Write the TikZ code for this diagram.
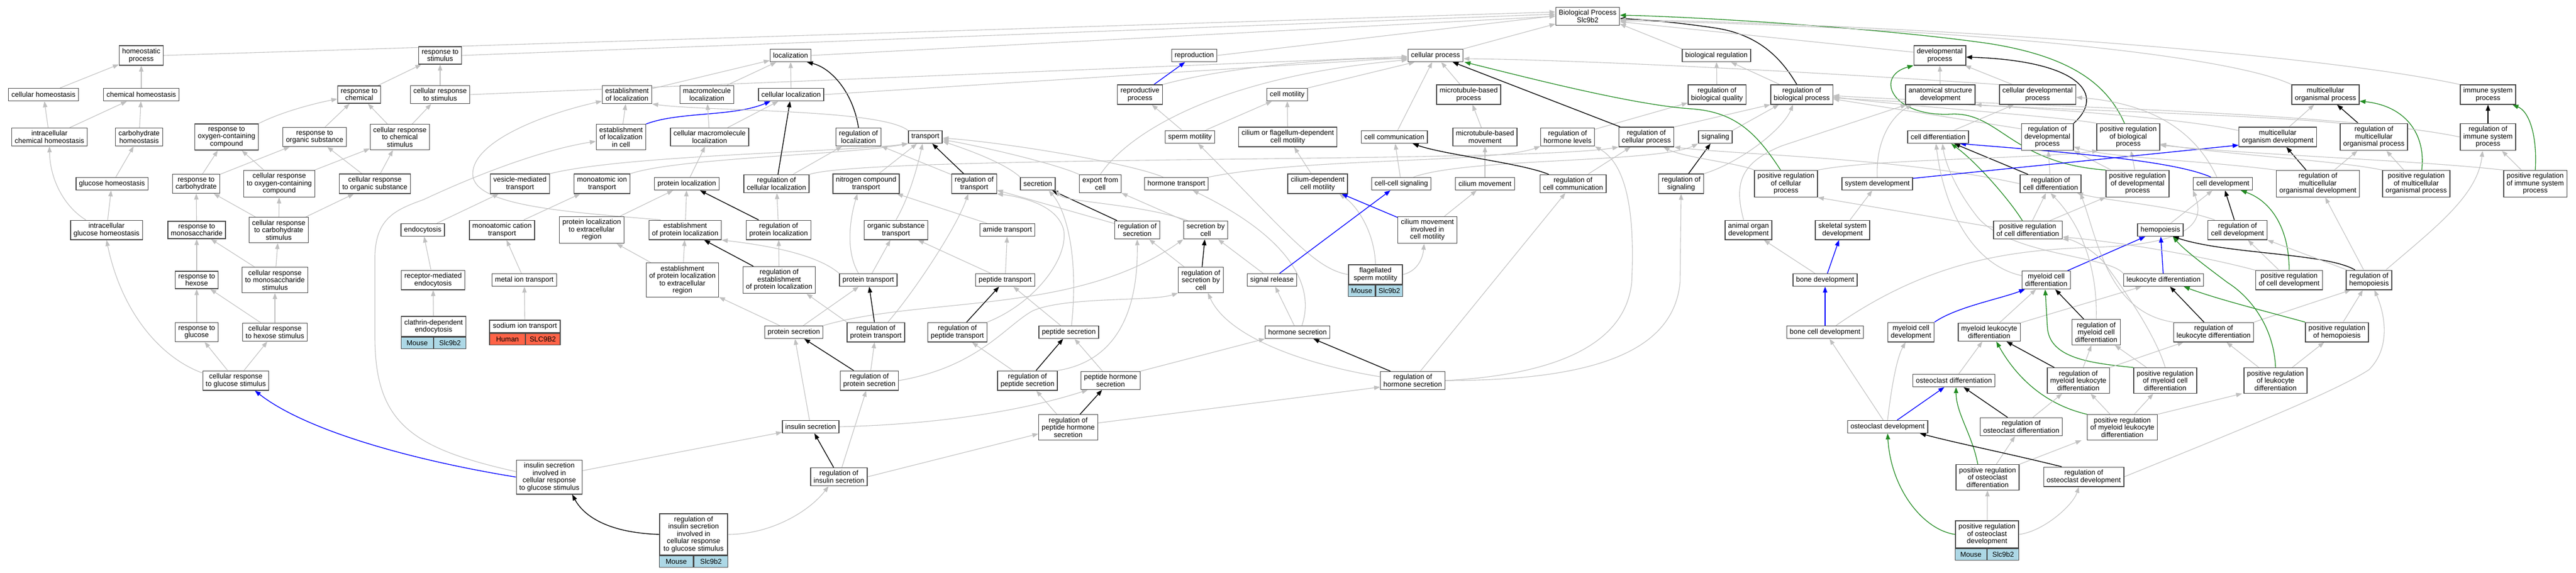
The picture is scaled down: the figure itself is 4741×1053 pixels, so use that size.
\documentclass[tikz,border=0pt]{standalone}
\usepackage{fontspec}
\setmainfont{Liberation Sans}
\usetikzlibrary{arrows.meta,backgrounds}
\definecolor{eg}{RGB}{192,192,192}
\definecolor{ebl}{RGB}{0,0,255}
\definecolor{egn}{RGB}{34,139,34}
\definecolor{lbl}{RGB}{173,216,230}
\definecolor{tom}{RGB}{255,99,71}
\definecolor{nbd}{RGB}{70,70,70}
\newcommand\nfont{\fontsize{13}{13.5}\selectfont}
\begin{document}
\begin{tikzpicture}[x=1pt,y=-1pt,
 nb/.style={draw=nbd, line width=1.4pt, fill=white, align=center, inner xsep=5.5pt, inner ysep=5pt, minimum height=23pt, font=\nfont},
 cb/.style={draw=nbd, line width=1.4pt, fill=lbl, minimum height=21pt, inner sep=0pt, font=\nfont},
 cbr/.style={cb, fill=tom},
 ge/.style={draw=eg, line width=1.1pt, -{Triangle[length=11pt,width=8pt]}},
 ke/.style={draw=black, line width=1.4pt, -{Triangle[length=11pt,width=8pt]}},
 bue/.style={draw=ebl, line width=1.4pt, -{Triangle[length=11pt,width=8pt]}},
 gne/.style={draw=egn, line width=1.3pt, -{Triangle[length=11pt,width=8pt]}}]
\useasboundingbox (0,0) rectangle (4741,1053);
% ---------------- nodes: left cluster
\node[nb] (hp) at (260,102) {homeostatic\\process};
\node[nb] (ch) at (80,174) {cellular homeostasis};
\node[nb] (chh) at (260,174) {chemical homeostasis};
\node[nb] (ichh) at (91,252) {intracellular\\chemical homeostasis};
\node[nb] (cbh) at (256,252) {carbohydrate\\homeostasis};
\node[nb] (gh) at (206,338) {glucose homeostasis};
\node[nb] (igh) at (196,423) {intracellular\\glucose homeostasis};
\node[nb] (rc) at (661,174) {response to\\chemical};
\node[nb] (rs) at (810,102) {response to\\stimulus};
\node[nb] (crs) at (810,174) {cellular response\\to stimulus};
\node[nb] (roc) at (417,252) {response to\\oxygen-containing\\compound};
\node[nb] (ros) at (579,252) {response to\\organic substance};
\node[nb] (crcs) at (736,252) {cellular response\\to chemical\\stimulus};
\node[nb] (rcb) at (361,338) {response to\\carbohydrate};
\node[nb] (croc) at (514,338) {cellular response\\to oxygen-containing\\compound};
\node[nb] (cros) at (690,338) {cellular response\\to organic substance};
\node[nb] (rms) at (362,423) {response to\\monosaccharide};
\node[nb] (crcbs) at (513,423) {cellular response\\to carbohydrate\\stimulus};
\node[nb] (rhx) at (362,515) {response to\\hexose};
\node[nb] (crms) at (506,515) {cellular response\\to monosaccharide\\stimulus};
\node[nb] (endo) at (778,423) {endocytosis};
\node[nb] (rme) at (797,515) {receptor-mediated\\endocytosis};
\node[nb] (rgl) at (362,611) {response to\\glucose};
\node[nb] (crhs) at (506,611) {cellular response\\to hexose stimulus};
\node[nb] (crgs) at (434,700) {cellular response\\to glucose stimulus};
\node[nb, minimum width=118pt, minimum height=37pt] (cde) at (798,600.5) {clathrin-dependent\\endocytosis};
\node[cb, minimum width=59pt, anchor=north east] at (cde.south) {Mouse};
\node[cb, minimum width=59pt, anchor=north west] at (cde.south) {Slc9b2};
% ---------------- localization cluster
\node[nb] (loc) at (1455,102) {localization};
\node[nb] (eloc) at (1154,174) {establishment\\of localization};
\node[nb] (mml) at (1301,174) {macromolecule\\localization};
\node[nb] (cloc) at (1456,174) {cellular localization};
\node[nb] (elc) at (1143,252) {establishment\\of localization\\in cell};
\node[nb] (cmml) at (1306,252) {cellular macromolecule\\localization};
\node[nb] (rloc) at (1580,252) {regulation of\\localization};
\node[nb] (vmt) at (957,338) {vesicle-mediated\\transport};
\node[nb] (mit) at (1108,338) {monoatomic ion\\transport};
\node[nb] (ploc) at (1264,338) {protein localization};
\node[nb] (rcl) at (1429,338) {regulation of\\cellular localization};
\node[nb] (nct) at (1594,338) {nitrogen compound\\transport};
\node[nb] (mct) at (924,423) {monoatomic cation\\transport};
\node[nb] (pler) at (1089,423) {protein localization\\to extracellular\\region};
\node[nb] (epl) at (1261,423) {establishment\\of protein localization};
\node[nb] (rpl) at (1433,423) {regulation of\\protein localization};
\node[nb] (mett) at (965,515) {metal ion transport};
\node[nb] (epler) at (1256,515) {establishment\\of protein localization\\to extracellular\\region};
\node[nb] (repl) at (1434,515) {regulation of\\establishment\\of protein localization};
\node[nb] (prt) at (1598,515) {protein transport};
\node[nb, minimum width=130pt] (sit) at (966,600.5) {sodium ion transport};
\node[cbr, minimum width=66pt, anchor=north west] at (sit.south west) {Human};
\node[cbr, minimum width=64pt, anchor=north east] at (sit.south east) {SLC9B2};
\node[nb] (prs) at (1461,611) {protein secretion};
\node[nb] (rps) at (1600,700) {regulation of\\protein secretion};
\node[nb] (ins) at (1492,785) {insulin secretion};
\node[nb] (isg) at (1011,877.5) {insulin secretion\\involved in\\cellular response\\to glucose stimulus};
\node[nb] (ris) at (1544,877) {regulation of\\insulin secretion};
\node[nb, minimum width=125pt, minimum height=76pt] (risg) at (1276.5,983) {regulation of\\insulin secretion\\involved in\\cellular response\\to glucose stimulus};
\node[cb, minimum width=62.5pt, anchor=north east] at (risg.south) {Mouse};
\node[cb, minimum width=62.5pt, anchor=north west] at (risg.south) {Slc9b2};
% ---------------- transport / secretion cluster
\node[nb] (repro) at (2198,102) {reproduction};
\node[nb] (rp) at (2098,174) {reproductive\\process};
\node[nb] (cm) at (2369,174) {cell motility};
\node[nb] (tr) at (1703,252) {transport};
\node[nb] (sm) at (2190,252) {sperm motility};
\node[nb] (cfm) at (2370,252) {cilium or flagellum-dependent\\cell motility};
\node[nb] (rtr) at (1793,338) {regulation of\\transport};
\node[nb] (sec) at (1910,338) {secretion};
\node[nb] (efc) at (2025,338) {export from\\cell};
\node[nb] (ht) at (2165,338) {hormone transport};
\node[nb] (ost) at (1649,423) {organic substance\\transport};
\node[nb] (amt) at (1854,423) {amide transport};
\node[nb] (rsec) at (2093,423) {regulation of\\secretion};
\node[nb] (sbc) at (2219,423) {secretion by\\cell};
\node[nb] (pept) at (1850,515) {peptide transport};
\node[nb] (rsbc) at (2210,515) {regulation of\\secretion by\\cell};
\node[nb] (sr) at (2341,515) {signal release};
\node[nb] (rpt) at (1612,611) {regulation of\\protein transport};
\node[nb] (rpept) at (1762,611) {regulation of\\peptide transport};
\node[nb] (pes) at (1967,611) {peptide secretion};
\node[nb] (hs) at (2388,611) {hormone secretion};
\node[nb] (rpes) at (1891,700) {regulation of\\peptide secretion};
\node[nb] (phs) at (2044,700) {peptide hormone\\secretion};
\node[nb] (rphs) at (1966,786) {regulation of\\peptide hormone\\secretion};
% ---------------- central cluster
\node[nb] (bp) at (2922,30) {Biological Process\\Slc9b2};
\node[nb] (cp) at (2642,102) {cellular process};
\node[nb] (br) at (3159,102) {biological regulation};
\node[nb] (mtp) at (2703,174) {microtubule-based\\process};
\node[nb] (rbq) at (3160,174) {regulation of\\biological quality};
\node[nb] (cc) at (2566,252) {cell communication};
\node[nb] (mtm) at (2733,252) {microtubule-based\\movement};
\node[nb] (rhl) at (2885,252) {regulation of\\hormone levels};
\node[nb] (rcp) at (3030,252) {regulation of\\cellular process};
\node[nb] (sig) at (3157,252) {signaling};
\node[nb] (cdm) at (2425,338) {cilium-dependent\\cell motility};
\node[nb] (ccs) at (2579,338) {cell-cell signaling};
\node[nb] (cmv) at (2733,338) {cilium movement};
\node[nb] (rcc) at (2895,338) {regulation of\\cell communication};
\node[nb] (rsig) at (3094,338) {regulation of\\signaling};
\node[nb] (cmcm) at (2627,423) {cilium movement\\involved in\\cell motility};
\node[nb, minimum width=99pt, minimum height=36pt] (fsm) at (2531.5,505) {flagellated\\sperm motility};
\node[cb, minimum width=49.5pt, anchor=north east] at (fsm.south) {Mouse};
\node[cb, minimum width=49.5pt, anchor=north west] at (fsm.south) {Slc9b2};
\node[nb] (rhs) at (2600,700) {regulation of\\hormone secretion};
% ---------------- developmental cluster
\node[nb] (dp) at (3570,102) {developmental\\process};
\node[nb] (rbp) at (3316,174) {regulation of\\biological process};
\node[nb] (asd) at (3571,174) {anatomical structure\\development};
\node[nb] (cdp) at (3750,174) {cellular developmental\\process};
\node[nb] (cd) at (3567,252) {cell differentiation};
\node[nb] (rdp) at (3768,252) {regulation of\\developmental\\process};
\node[nb] (prbp) at (3917,252) {positive regulation\\of biological\\process};
\node[nb] (prcp) at (3287,338) {positive regulation\\of cellular\\process};
\node[nb] (sd) at (3455,338) {system development};
\node[nb] (rcd) at (3774,338) {regulation of\\cell differentiation};
\node[nb] (prdp) at (3934,338) {positive regulation\\of developmental\\process};
\node[nb] (aod) at (3218,423) {animal organ\\development};
\node[nb] (ssd) at (3391,423) {skeletal system\\development};
\node[nb] (prcd) at (3732,423) {positive regulation\\of cell differentiation};
\node[nb] (hem) at (3976,423) {hemopoiesis};
\node[nb] (rcdev) at (4118,423) {regulation of\\cell development};
\node[nb] (bd) at (3359,515) {bone development};
\node[nb] (mcd) at (3766,515) {myeloid cell\\differentiation};
\node[nb] (ld) at (3982,515) {leukocyte differentiation};
\node[nb] (bcd) at (3359,611) {bone cell development};
\node[nb] (mcdev) at (3517,611) {myeloid cell\\development};
\node[nb] (mld) at (3661,611) {myeloid leukocyte\\differentiation};
\node[nb] (rmcd) at (3858,611) {regulation of\\myeloid cell\\differentiation};
\node[nb] (od) at (3596,700) {osteoclast differentiation};
\node[nb] (rmld) at (3825,700) {regulation of\\myeloid leukocyte\\differentiation};
\node[nb] (prmcd) at (3985,700) {positive regulation\\of myeloid cell\\differentiation};
\node[nb] (odev) at (3474,785) {osteoclast development};
\node[nb] (rod) at (3720,785) {regulation of\\osteoclast differentiation};
\node[nb] (prmld) at (3906,786) {positive regulation\\of myeloid leukocyte\\differentiation};
\node[nb] (prod) at (3658,878) {positive regulation\\of osteoclast\\differentiation};
\node[nb] (rodev) at (3835,877) {regulation of\\osteoclast development};
\node[nb, minimum width=116pt, minimum height=50pt] (prodev) at (3657,983) {positive regulation\\of osteoclast\\development};
\node[cb, minimum width=58pt, anchor=north east] at (prodev.south) {Mouse};
\node[cb, minimum width=58pt, anchor=north west] at (prodev.south) {Slc9b2};
\node[nb] (mop) at (4280,174) {multicellular\\organismal process};
\node[nb] (isp) at (4579,174) {immune system\\process};
\node[nb] (mod) at (4192,252) {multicellular\\organism development};
\node[nb] (rmop) at (4369,252) {regulation of\\multicellular\\organismal process};
\node[nb] (risp) at (4579,252) {regulation of\\immune system\\process};
\node[nb] (cdev) at (4091,338) {cell development};
\node[nb] (rmod) at (4266,338) {regulation of\\multicellular\\organismal development};
\node[nb] (prmop) at (4447,338) {positive regulation\\of multicellular\\organismal process};
\node[nb] (prisp) at (4666,338) {positive regulation\\of immune system\\process};
\node[nb] (prcdev) at (4213,515) {positive regulation\\of cell development};
\node[nb] (rhem) at (4360,515) {regulation of\\hemopoiesis};
\node[nb] (rld) at (4074,611) {regulation of\\leukocyte differentiation};
\node[nb] (prhem) at (4301,611) {positive regulation\\of hemopoiesis};
\node[nb] (prld) at (4188,700) {positive regulation\\of leukocyte\\differentiation};
% ================= edges
\begin{pgfonlayer}{background}
\fill[white] (0,0) rectangle (4741,1053);
% left
\draw[ge] (ch) -- (hp);
\draw[ge] (chh) -- (hp);
\draw[ge] (ichh) -- (ch);
\draw[ge] (ichh) -- (chh);
\draw[ge] (cbh) -- (chh);
\draw[ge] (gh) -- (cbh);
\draw[ge] (igh) -- (gh);
\draw[ge] ([xshift=-38pt]igh.north) .. controls (118,380) and (92,330) .. (ichh.south);
\draw[ge] ([yshift=14pt]crgs.west) .. controls (300,660) and (225,580) .. (igh.south);
\draw[ge] (crgs) -- (rgl);
\draw[ge] (crgs) -- (crhs);
\draw[ge] (rgl) -- (rhx);
\draw[ge] (crhs) -- (rhx);
\draw[ge] (crhs) -- (crms);
\draw[ge] (rhx) -- (rms);
\draw[ge] (crms) -- (rms);
\draw[ge] (crms) -- (crcbs);
\draw[ge] (rms) -- (rcb);
\draw[ge] (crcbs) -- (rcb);
\draw[ge] (crcbs) -- (croc);
\draw[ge] (crcbs) -- (cros);
\draw[ge] (rcb) -- (roc);
\draw[ge] (rcb) -- (ros);
\draw[ge] (croc) -- (roc);
\draw[ge] (croc) -- (crcs);
\draw[ge] (cros) -- (ros);
\draw[ge] (cros) -- (crcs);
\draw[ge] (roc.north east) .. controls (520,205) and (580,190) .. ([yshift=-8pt]rc.west);
\draw[ge] (ros) -- (rc);
\draw[ge] (crcs) -- (rc);
\draw[ge] (crcs) -- (crs);
\draw[ge] (rc) -- (rs);
\draw[ge] (crs) -- (rs);
\draw[ge] (hp.east) -- ([yshift=8pt]bp.west);
\draw[ge] (rs.east) -- ([yshift=4pt]bp.west);
\draw[ge] (crs.east) -- ([yshift=-2pt]cp.west);
\draw[ge] (endo) -- (vmt);
\draw[ge] (rme) -- (endo);
\draw[ge] (cde) -- (rme);
\draw[ge] (sit) -- (mett);
\draw[ge] (mett) -- (mct);
\draw[ge] (mct) -- (mit);
\draw[ge] (vmt.north east) .. controls (1150,285) and (1550,280) .. (tr.south west);
\draw[ge] (mit.north east) .. controls (1250,290) and (1560,285) .. (tr.south west);
\draw[ge] (isg) -- (ins);
\draw[bue] (isg.west) .. controls (750,845) and (560,790) .. ([xshift=35pt]crgs.south);
\draw[ge] ([yshift=10pt]isg.west) .. controls (760,825) and (690,780) .. (690,620) -- (690,470) .. controls (692,400) and (730,385) .. (780,367) .. controls (880,320) and (1000,275) .. ([yshift=-8pt]elc.west);
% localization
\draw[ge] (loc.east) -- (bp.west);
\draw[ge] (eloc) -- (loc);
\draw[ge] (mml) -- (loc);
\draw[ge] (cloc) -- (loc);
\draw[ke] (rloc.north) .. controls (1570,170) and (1530,125) .. ([xshift=30pt]loc.south);
\draw[ge] (elc) -- (eloc);
\draw[bue] (elc.north east) .. controls (1250,205) and (1350,215) .. ([xshift=-38pt]cloc.south);
\draw[ge] (cmml) -- (mml);
\draw[ge] (cmml) -- (cloc);
\draw[ke] (rcl) -- (cloc);
\draw[ge] (rcl) -- (rloc);
\draw[ge] (rcl.north east) .. controls (1600,285) and (2800,300) .. (rcp.south west);
\draw[ge] (ploc) -- (cmml);
\draw[ge] (epl) -- (ploc);
\draw[ge] ([xshift=22pt]epl.north west) .. controls (1050,390) and (870,380) .. (870,320) .. controls (870,260) and (1000,210) .. ([yshift=-12pt]eloc.west);
\draw[ke] (rpl) -- (ploc);
\draw[ge] (rpl) -- (rcl);
\draw[ke] (repl) -- (epl);
\draw[ge] (repl) -- (rpl);
\draw[ge] (epler) -- (pler);
\draw[ge] (epler) -- (epl);
\draw[ge] (pler) -- (ploc);
\draw[ge] (prt.north west) .. controls (1500,465) and (1400,450) .. (epl.south east);
\draw[ge] ([xshift=-18pt]prt.north) .. controls (1555,460) and (1565,400) .. ([xshift=-16pt]nct.south);
\draw[ge] (prt) -- (ost);
\draw[ge] (prs) -- (prt);
\draw[ge] (prs) -- (epler);
\draw[ge] (prs.north east) .. controls (1700,545) and (1980,580) .. (sbc.south west);
\draw[ge] (ins) -- (prs);
\draw[ge] (ins.east) .. controls (1750,780) and (1900,750) .. ([xshift=-42pt]phs.south);
\draw[ke] (ris) -- (ins);
\draw[ge] (ris) -- (rps);
\draw[ge] (ris.east) -- ([yshift=-12pt]rphs.west);
\draw[ke] (risg.west) .. controls (1120,980) and (1075,950) .. ([xshift=42pt]isg.south);
\draw[ge] (risg.east) .. controls (1420,983) and (1490,940) .. ([xshift=-19pt]ris.south);
\draw[ge] (cloc.east) -- ([yshift=-4pt]cp.west);
% transport
\draw[ge] (tr.north west) .. controls (1620,200) and (1300,205) .. (eloc.south east);
\draw[ge] (rtr) -- (rloc);
\draw[ke] (rtr) -- (tr);
\draw[ge] ([xshift=22pt]rpt.north) .. controls (1680,540) and (1760,420) .. ([xshift=-11pt]rtr.south);
\draw[ke] (rpt) -- (prt);
\draw[ge] (rpt.north west) -- ([xshift=-17pt]repl.south east);
\draw[ge] (rps) -- (rpt);
\draw[ke] (rps) -- (prs);
\draw[ge] (rps.east) .. controls (1800,675) and (1850,600) .. (1900,572) .. controls (1960,545) and (2120,555) .. (rsbc.south west);
\draw[ke] (rpept) -- (pept);
\draw[ge] (rpept.north east) .. controls (1900,560) and (1965,480) .. (1958,425) .. controls (1950,385) and (1900,365) .. (rtr.south east);
\draw[ge] (pes) -- (pept);
\draw[ge] ([xshift=5pt]pes.north) .. controls (1985,480) and (1965,390) .. ([xshift=20pt]sec.south);
\draw[ge] (phs) -- (pes);
\draw[ge] (phs.north east) -- (hs.south west);
\draw[ke] (rpes) -- (pes);
\draw[ge] (rpes) -- (rpept);
\draw[ge] (rpes.north east) .. controls (2050,665) and (2095,580) .. (rsec.south);
\draw[ke] (rphs) -- (phs);
\draw[ge] (rphs) -- (rpes);
\draw[ge] ([yshift=8pt]rphs.east) -- ([yshift=-12pt]rhs.west);
\draw[ke] (rhs) -- (hs);
\draw[ge] (hs) -- (sr);
\draw[ge] ([xshift=8pt]hs.north) .. controls (2420,530) and (2380,440) .. ([xshift=30pt]ht.south);
\draw[ge] (fsm.west) .. controls (2420,495) and (2370,430) .. ([xshift=15pt]sm.south);
\draw[ge] (fsm.north) .. controls (2530,430) and (2500,380) .. ([xshift=-16pt]cdm.south east);
\draw[ge] (fsm.east) .. controls (2605,500) and (2618,480) .. ([xshift=-6pt]cmcm.south);
\draw[ge] (rhs.east) .. controls (2850,690) and (2990,640) .. (3003,520) .. controls (3010,380) and (2990,300) .. (rhl.south east);
\draw[ge] (rhs.east) .. controls (2950,700) and (3080,640) .. (3092,520) -- (rsig.south);
\draw[ge] (rhs) -- (rcc);
\draw[ge] ([yshift=7pt]rhs.west) .. controls (2400,670) and (2260,620) .. ([xshift=13pt]rsbc.south);
\draw[ge] (sr) -- (sbc);
\draw[bue] ([xshift=14pt]sr.north) -- ([xshift=-20pt]ccs.south);
\draw[ke] (rsbc) -- (sbc);
\draw[ge] (rsbc) -- (rsec);
\draw[ke] (rsec) -- (sec);
\draw[ge] (rsec) -- (rtr);
\draw[ge] ([xshift=8pt]sbc.north west) .. controls (2100,375) and (1960,372) .. (sec.south east);
\draw[ge] (sbc) -- (efc);
\draw[ge] (sec.north west) .. controls (1850,300) and (1780,275) .. ([yshift=-8pt]tr.east);
\draw[ge] (efc.north west) .. controls (1940,300) and (1800,268) .. ([yshift=-5pt]tr.east);
\draw[ge] ([xshift=35pt]ht.north west) .. controls (2080,300) and (1850,262) .. ([yshift=-2pt]tr.east);
\draw[ge] (efc.north) .. controls (2080,240) and (2250,140) .. ([yshift=-8pt]cp.west);
\draw[ge] (ht.north east) .. controls (2400,290) and (2750,300) .. (rhl.south west);
\draw[ge] (amt) -- (nct);
\draw[ge] (pept) -- (amt);
\draw[ge] (pept) -- (ost);
\draw[ge] (ost.north) .. controls (1675,360) and (1690,300) .. ([xshift=-5pt]tr.south);
\draw[ge] (nct) -- (tr);
% repro / motility / signaling
\draw[ge] (repro.east) -- ([yshift=1pt]bp.west);
\draw[bue] (rp) -- (repro);
\draw[ge] (rp.north east) .. controls (2250,125) and (2450,105) .. ([yshift=-6pt]cp.west);
\draw[ge] (sm) -- (rp);
\draw[ge] (sm) -- (cm);
\draw[ge] (cm.north east) -- ([xshift=13pt]cp.south west);
\draw[ge] (cfm) -- (cm);
\draw[ge] (cdm) -- (cfm);
\draw[bue] (cmcm) -- (cdm);
\draw[ge] (cmcm) -- (cmv);
\draw[ge] (cmv) -- (mtm);
\draw[ge] (mtm) -- (mtp);
\draw[ge] (mtp) -- (cp);
\draw[ge] (cc) -- (cp);
\draw[ge] (ccs) -- (cc);
\draw[ge] ([xshift=-33pt]ccs.north east) .. controls (2700,290) and (3050,300) .. (sig.south west);
\draw[ke] ([xshift=17pt]rcc.north west) .. controls (2800,300) and (2660,285) .. ([xshift=34pt]cc.south);
\draw[ge] (rcc) -- (rcp);
\draw[ke] (rsig) -- (sig);
\draw[ge] (rsig.north east) .. controls (3200,300) and (3280,240) .. ([xshift=-16pt]rbp.south);
\draw[ge] (sig.north east) -- ([xshift=-42pt]rbp.south);
\draw[ge] (rhl) -- (rbq);
\draw[ke] (rcp) -- (cp);
\draw[ge] (rcp.north east) -- (rbp.south west);
\draw[ge] (rbq) -- (br);
\draw[ge] (rbp) -- (br);
\draw[ke] ([xshift=-9pt]rbp.north) .. controls (3280,110) and (3240,65) .. (3160,52) .. controls (3080,40) and (3020,36) .. ([yshift=-4pt]bp.east);
\draw[ge] (br.north west) -- ([yshift=-14pt]bp.east);
\draw[ge] (cp.north east) -- ([yshift=-14pt]bp.west);
% developmental
\draw[ge] ([yshift=6pt]dp.west) -- ([yshift=-10pt]bp.east);
\draw[ge] (asd) -- (dp);
\draw[ge] (cdp) -- (dp);
\draw[ge] (cdp.north west) .. controls (3300,130) and (2900,110) .. ([yshift=-6pt]cp.east);
\draw[ke] (rdp.north east) .. controls (3875,175) and (3830,112) .. ([yshift=-3pt]dp.east);
\draw[ge] ([yshift=15pt]rdp.west) -- ([yshift=-8pt]rbp.east);
\draw[ge] (prbp.north west) .. controls (3800,215) and (3500,195) .. ([yshift=-4pt]rbp.east);
\draw[gne] ([xshift=-7pt]prbp.north) .. controls (3880,160) and (3820,105) .. (3660,80) .. controls (3450,50) and (3100,30) .. ([yshift=2pt]bp.east);
\draw[gne] (prdp.north west) .. controls (3700,300) and (3680,205) .. (3590,210) .. controls (3480,215) and (3450,140) .. (dp.south west);
\draw[ge] (prdp) -- (rdp);
\draw[ge] (prdp) -- (prbp);
\draw[ge] (cd) -- (cdp);
\draw[ke] (rcd) -- (cd);
\draw[ge] (rcd) -- (rdp);
\draw[ge] (rcd.west) .. controls (3500,290) and (3200,285) .. (rcp.south east);
\draw[gne] ([xshift=-10pt]prcd.north) .. controls (3700,370) and (3640,300) .. ([xshift=24pt]cd.south);
\draw[ge] (prcd) -- (rcd);
\draw[ge] (prcd) -- (prdp);
\draw[ge] ([yshift=5pt]prcd.west) -- (prcp.south east);
\draw[ge] (prcp.north east) .. controls (3450,292) and (3750,292) .. ([xshift=3pt]prbp.south west);
\draw[ge] (prcp.north west) .. controls (3200,300) and (3100,290) .. ([xshift=-20pt]rcp.south east);
\draw[gne] ([xshift=-10pt]prcp.north) .. controls (3230,240) and (3190,205) .. (3110,200) .. controls (3000,192) and (2800,140) .. ([xshift=2pt]cp.south east);
\draw[ge] (sd.north) .. controls (3452,260) and (3480,215) .. ([xshift=-52pt]asd.south);
\draw[bue] ([yshift=10pt]sd.east) -- ([yshift=-15pt]mod.west);
\draw[ge] ([xshift=-9pt]aod.north) .. controls (3192,340) and (3200,300) .. (3280,268) -- ([xshift=-62pt]asd.south);
\draw[ge] (ssd) -- (sd);
\draw[bue] (bd) -- (ssd);
\draw[ge] (bd) -- (aod);
\draw[bue] (bcd) -- (bd);
\draw[ge] ([xshift=20pt]bcd.north) .. controls (3550,480) and (3700,460) .. (3850,455) .. controls (4050,450) and (4055,400) .. (cdev.south west);
\draw[ge] (odev) -- (bcd);
\draw[ge] (odev.north) .. controls (3480,720) and (3490,660) .. ([xshift=-10pt]mcdev.south);
\draw[bue] (odev) -- (od);
\draw[bue] (mcdev.north east) .. controls (3600,565) and (3680,550) .. ([xshift=-39pt]mcd.south);
\draw[ge] (od) -- (mld);
\draw[ge] (mld) -- (mcd);
\draw[ge] (mld) -- (ld);
\draw[ge] ([yshift=8pt]mcd.west) .. controls (3640,490) and (3580,400) .. ([xshift=-4pt]cd.south);
\draw[bue] (mcd) -- (hem);
\draw[bue] (ld) -- (hem);
\draw[ge] (ld.north west) .. controls (3880,470) and (3700,470) .. (3640,400) .. controls (3600,350) and (3580,300) .. ([xshift=8pt]cd.south);
\draw[ge] ([xshift=-24pt]hem.north east) -- ([xshift=-19pt]cdev.south);
\draw[ke] (rcdev) -- (cdev);
\draw[ge] ([xshift=13pt]rcdev.north west) .. controls (4000,378) and (3880,370) .. ([xshift=-8pt]rcd.south east);
\draw[gne] (prcdev.north) .. controls (4213,420) and (4180,370) .. ([xshift=33pt]cdev.south);
\draw[ge] (prcdev) -- (rcdev);
\draw[ge] ([yshift=18pt]prcdev.west) .. controls (4050,470) and (3900,445) .. ([yshift=-13pt]prcd.east);
\draw[ke] ([xshift=17pt]rhem.north west) .. controls (4280,465) and (4100,468) .. ([xshift=23pt]hem.south);
\draw[ge] (rhem) -- (rmod);
\draw[ge] ([xshift=31pt]rhem.north) .. controls (4480,420) and (4560,360) .. ([xshift=-10pt]risp.south);
\draw[ge] ([xshift=2pt]rhem.north west) -- (rcdev.south east);
\draw[ke] (rld) -- (ld);
\draw[ge] (rld.north east) -- ([xshift=9pt]rhem.south west);
\draw[ge] (rld.north west) .. controls (3880,575) and (3860,440) .. ([xshift=-2pt]rcd.south east);
\draw[ge] (prhem) -- (rhem);
\draw[gne] (prld.north) .. controls (4185,600) and (4140,545) .. (4100,520) .. controls (4060,490) and (4020,460) .. ([xshift=23pt]hem.south);
\draw[gne] (prhem.north west) .. controls (4160,570) and (4080,550) .. ([xshift=37pt]ld.south);
\draw[ge] (prld) -- (rld);
\draw[ge] (prld) -- (prhem);
\draw[ge] (prmcd) -- (rmcd);
\draw[gne] (prmcd.north west) .. controls (3850,668) and (3770,660) .. (3768,600) -- ([xshift=-2pt]mcd.south);
\draw[ge] (prmcd.north) .. controls (3965,610) and (3900,520) .. (3870,480) .. controls (3840,450) and (3810,440) .. (prcd.south east);
\draw[ke] (rmcd) -- (mcd);
\draw[ge] (rmcd.north) .. controls (3860,520) and (3845,430) .. (rcd.south);
\draw[ke] (rmld) -- (mld);
\draw[ge] (rmld) -- (rmcd);
\draw[ge] (rmld.north east) -- ([xshift=19pt]rld.south west);
\draw[ge] (prmld) -- (rmld);
\draw[gne] (prmld.north west) .. controls (3780,748) and (3720,710) .. ([xshift=13pt]mld.south);
\draw[ge] (prmld) -- (prmcd);
\draw[ge] (prmld.north east) -- ([xshift=-3pt]prld.south west);
\draw[ke] (rod) -- (od);
\draw[ge] (rod) -- (rmld);
\draw[gne] ([xshift=-18pt]prod.north) .. controls (3630,800) and (3600,760) .. ([xshift=4pt]od.south);
\draw[ge] (prod) -- (rod);
\draw[ge] (prod.north east) -- ([xshift=-10pt]prmld.south west);
\draw[ke] ([xshift=34pt]rodev.north west) .. controls (3700,835) and (3600,815) .. ([xshift=-15pt]odev.south east);
\draw[ge] (rodev.east) .. controls (4100,800) and (4300,720) .. (4360,680) .. controls (4400,640) and (4390,580) .. ([xshift=10pt]rhem.south);
\draw[gne] (prodev.west) .. controls (3540,975) and (3480,900) .. (odev.south);
\draw[ge] (prodev) -- (prod);
\draw[ge] (prodev.east) .. controls (3760,978) and (3815,930) .. ([xshift=-9pt]rodev.south);
% right
\draw[ge] (mod) -- (mop);
\draw[ge] ([yshift=12pt]mod.west) .. controls (4000,215) and (3750,200) .. (asd.south east);
\draw[ke] (rmop) -- (mop);
\draw[ge] (rmop.north west) .. controls (4150,210) and (3700,200) .. ([yshift=-6pt]rbp.east);
\draw[ke] (rmod) -- (mod);
\draw[ge] (rmod) -- (rmop);
\draw[ge] (rmod.north west) .. controls (4050,295) and (3880,290) .. ([yshift=-18pt]rdp.east);
\draw[gne] ([xshift=10pt]prmop.north) .. controls (4465,250) and (4430,195) .. ([yshift=-12pt]mop.east);
\draw[ge] (prmop) -- (rmop);
\draw[ge] (prmop.north west) .. controls (4300,295) and (4100,285) .. ([yshift=-13pt]prbp.east);
\draw[ge] (isp.north west) .. controls (4250,95) and (3500,45) .. ([yshift=-6pt]bp.east);
\draw[ge] (mop.north west) .. controls (4100,100) and (3600,50) .. ([yshift=-8pt]bp.east);
\draw[ke] (risp) -- (isp);
\draw[ge] (risp.west) .. controls (4300,205) and (3700,195) .. ([yshift=-2pt]rbp.east);
\draw[gne] (prisp.north) .. controls (4670,250) and (4655,205) .. ([xshift=45pt]isp.south);
\draw[ge] (prisp) -- (risp);
\draw[ge] (prisp.north west) .. controls (4450,295) and (4150,285) .. ([yshift=-15pt]prbp.east);
\draw[bue] ([xshift=-22pt]cdev.north) .. controls (4000,295) and (3800,280) .. ([xshift=40pt]cd.south);
\draw[ge] ([xshift=-11pt]cdev.north) .. controls (4040,240) and (3960,190) .. ([yshift=-5pt]cdp.east);
\end{pgfonlayer}
\end{tikzpicture}
\end{document}
